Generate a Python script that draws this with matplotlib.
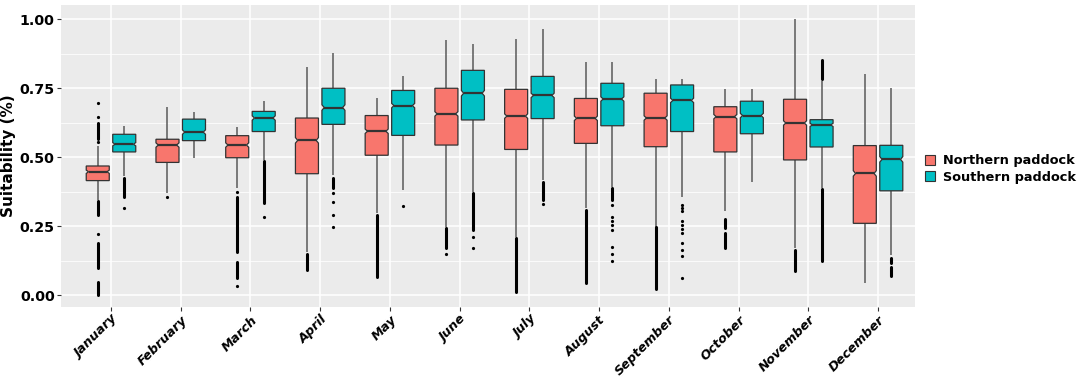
import matplotlib
matplotlib.use("Agg")
import matplotlib.pyplot as plt
from matplotlib.lines import Line2D

months = ["January", "February", "March", "April", "May", "June", "July",
          "August", "September", "October", "November", "December"]
series_names = ["Northern paddock", "Southern paddock"]

# Northern paddock box statistics
n_q1 = [0.415, 0.481, 0.498, 0.440, 0.507, 0.544, 0.528, 0.550, 0.538, 0.519, 0.490, 0.260]
n_med = [0.447, 0.544, 0.544, 0.561, 0.594, 0.657, 0.649, 0.641, 0.642, 0.647, 0.624, 0.441]
n_q3 = [0.468, 0.565, 0.578, 0.642, 0.651, 0.750, 0.746, 0.713, 0.732, 0.683, 0.710, 0.542]
n_wlo = [0.345, 0.369, 0.387, 0.155, 0.296, 0.248, 0.212, 0.314, 0.248, 0.306, 0.169, 0.042]
n_whi = [0.540, 0.681, 0.608, 0.828, 0.713, 0.925, 0.927, 0.846, 0.785, 0.746, 1.000, 0.802]
n_notch = [0.006, 0.008, 0.008, 0.010, 0.008, 0.008, 0.008, 0.008, 0.008, 0.008, 0.008, 0.010]
n_out_pts = [[0.556, 0.647, 0.695, 0.221], [0.354], [0.375, 0.033], [], [], [0.149],
             [], [], [], [], [], []]
n_out_bands = [[(0.565, 0.625), (0.29, 0.341), (0.097, 0.187), (0.0, 0.048)], [],
               [(0.157, 0.357), (0.06, 0.121)], [(0.091, 0.148)], [(0.067, 0.29)],
               [(0.169, 0.242)], [(0.012, 0.208)], [(0.042, 0.308)], [(0.021, 0.248)],
               [(0.242, 0.274), (0.169, 0.224)], [(0.088, 0.165)], []]

# Southern paddock box statistics
s_q1 = [0.519, 0.560, 0.593, 0.619, 0.579, 0.635, 0.640, 0.614, 0.593, 0.585, 0.537, 0.378]
s_med = [0.547, 0.591, 0.642, 0.680, 0.687, 0.732, 0.724, 0.711, 0.706, 0.651, 0.617, 0.492]
s_q3 = [0.583, 0.638, 0.666, 0.750, 0.742, 0.815, 0.793, 0.768, 0.762, 0.703, 0.636, 0.543]
s_wlo = [0.430, 0.496, 0.490, 0.435, 0.381, 0.375, 0.417, 0.393, 0.357, 0.411, 0.387, 0.145]
s_whi = [0.613, 0.663, 0.705, 0.877, 0.796, 0.911, 0.964, 0.846, 0.785, 0.746, 0.775, 0.750]
s_notch = [0.006, 0.008, 0.008, 0.010, 0.008, 0.010, 0.008, 0.008, 0.008, 0.008, 0.006, 0.010]
s_out_pts = [[0.317], [], [0.284], [0.369, 0.339, 0.29, 0.247], [0.324], [0.212, 0.172],
             [0.33], [0.328, 0.284, 0.27, 0.255, 0.236, 0.173, 0.149, 0.125],
             [0.326, 0.316, 0.306, 0.27, 0.255, 0.24, 0.224, 0.19, 0.163, 0.141, 0.063],
             [], [], []]
s_out_bands = [[(0.357, 0.425)], [], [(0.335, 0.485)], [(0.387, 0.423)], [],
               [(0.236, 0.371)], [(0.345, 0.411)], [(0.345, 0.387)], [], [],
               [(0.785, 0.852), (0.123, 0.383)], [(0.069, 0.103), (0.115, 0.135)]]

colors = ["#F8766D", "#00BFC4"]
FONT = "DejaVu Sans"

fig = plt.figure(figsize=(10.84, 3.78), dpi=100)
ax = fig.add_axes([61 / 1084, 1 - 307 / 378, (915 - 61) / 1084, (307 - 5) / 378])
ax.set_facecolor("#EBEBEB")
for sp in ax.spines.values():
    sp.set_visible(False)

offset = 0.19
width = 0.33
notch_frac = 0.8  # width at the notch relative to the box width


def draw(q1, med, q3, wlo, whi, notch, pts, bands, shift, color):
    for i in range(len(months)):
        x = i + shift
        hw = width / 2
        nw = hw * notch_frac
        ax.vlines(x, wlo[i], q1[i], color="#5a5a5a", lw=1.1, zorder=2)
        ax.vlines(x, q3[i], whi[i], color="#5a5a5a", lw=1.1, zorder=2)
        lo_c = med[i] - notch[i]
        hi_c = med[i] + notch[i]
        xs = [x - hw, x + hw, x + hw, x + nw, x + hw, x + hw, x - hw, x - hw, x - nw, x - hw]
        ys = [q1[i], q1[i], lo_c, med[i], hi_c, q3[i], q3[i], hi_c, med[i], lo_c]
        ax.fill(xs, ys, facecolor=color, edgecolor="#333333", lw=0.9, zorder=3,
                joinstyle="miter")
        ax.hlines(med[i], x - nw, x + nw, color="#333333", lw=1.6, zorder=4)
        if pts[i]:
            ax.plot([x] * len(pts[i]), pts[i], "o", color="black", markersize=2.3,
                    markeredgewidth=0, zorder=4)
        for lo, hi in bands[i]:
            ax.plot([x, x], [lo, hi], color="black", lw=2.2, solid_capstyle="round",
                    zorder=4)


draw(n_q1, n_med, n_q3, n_wlo, n_whi, n_notch, n_out_pts, n_out_bands, -offset, colors[0])
draw(s_q1, s_med, s_q3, s_wlo, s_whi, s_notch, s_out_pts, s_out_bands, offset, colors[1])

ax.set_xlim(-0.717, 11.53)
ax.set_ylim(-0.0435, 1.052)
ax.set_xticks(range(len(months)))
ax.set_xticklabels(months, rotation=45, ha="right", rotation_mode="anchor",
                   fontsize=9.2, fontweight="bold", fontstyle="italic", family=FONT)
ax.set_yticks([0, 0.25, 0.5, 0.75, 1.0])
ax.set_yticklabels(["0.00", "0.25", "0.50", "0.75", "1.00"], fontsize=10.3,
                   fontweight="bold", family=FONT)
ax.set_yticks([0.125, 0.375, 0.625, 0.875], minor=True)
ax.grid(True, which="major", color="white", linewidth=1.1, zorder=0)
ax.grid(True, which="minor", axis="y", color="white", linewidth=0.55, zorder=0)
ax.set_axisbelow(True)
ax.tick_params(axis="both", which="major", length=3, color="#333333", labelcolor="black",
               width=0.8)
ax.tick_params(axis="y", which="minor", length=0)
ax.tick_params(axis="x", pad=1.5)
ax.tick_params(axis="y", pad=1.5)
ax.set_ylabel("Suitability (%)", fontsize=11, fontweight="bold", family=FONT)
ax.yaxis.set_label_coords((15.5 - 61) / 854, 0.5)

handles = [Line2D([0], [0], marker="s", linestyle="none", markersize=7,
                  markerfacecolor=c, markeredgecolor="#333333", markeredgewidth=0.8)
           for c in colors]
leg = fig.legend(handles, series_names, loc="center left",
                 bbox_to_anchor=(925 / 1084, 1 - 169 / 378),
                 frameon=False, handlelength=0.8, handletextpad=0.6, labelspacing=0.25,
                 borderaxespad=0, borderpad=0,
                 prop=dict(family=FONT, weight="bold", size=9.3))

fig.savefig("out.png", dpi=100)
